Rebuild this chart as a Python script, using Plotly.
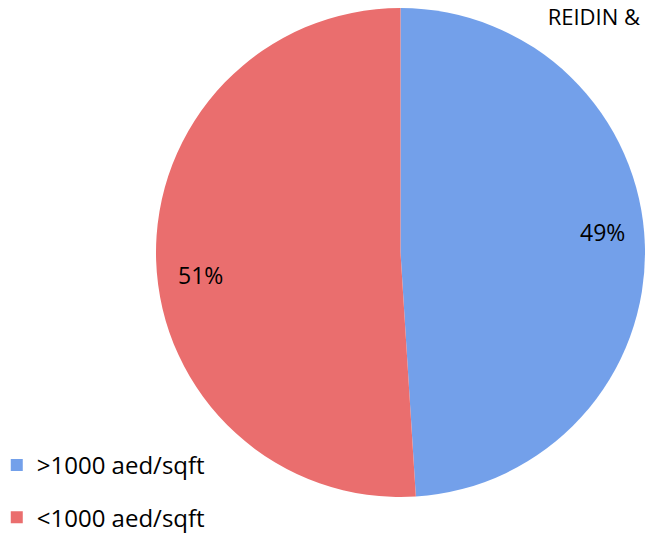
import plotly.graph_objects as go

labels = [">1000 aed/sqft", "<1000 aed/sqft"]
values = [49, 51]
colors = ["#73A0EA", "#EA6E6E"]
title_text = "REIDIN &"

total = sum(values)
pcts = [f"{round(v / total * 100)}%" for v in values]

fig = go.Figure()
fig.add_trace(go.Pie(
    labels=labels,
    values=values,
    sort=False,
    direction="clockwise",
    rotation=0,
    marker=dict(colors=colors, line=dict(width=0)),
    textinfo="none",
    hoverinfo="label+percent",
    showlegend=False,
    domain=dict(x=[156 / 646, 645 / 646], y=[36 / 533, 525 / 533]),
))

# legend entries
for lab, col in zip(labels, colors):
    fig.add_trace(go.Scatter(
        x=[None], y=[None], mode="markers", name=lab, legendgroup=lab,
        marker=dict(symbol="square", size=12, color=col),
    ))

# percentage labels
fig.add_annotation(x=602 / 646, y=1 - 232 / 533, xref="paper", yref="paper",
                   xanchor="center", yanchor="middle",
                   text=pcts[0], showarrow=False, font=dict(size=23, color="#000"))
fig.add_annotation(x=200 / 646, y=1 - 275 / 533, xref="paper", yref="paper",
                   xanchor="center", yanchor="middle",
                   text=pcts[1], showarrow=False, font=dict(size=23, color="#000"))

fig.update_layout(
    width=646, height=533,
    margin=dict(l=0, r=0, t=0, b=0, autoexpand=False),
    paper_bgcolor="white", plot_bgcolor="white",
    font=dict(family="Open Sans, Liberation Sans, sans-serif", size=22, color="#000"),
    title=dict(text=title_text, x=640 / 646, xanchor="right", y=1 - 17 / 533, yanchor="middle",
               font=dict(size=22, color="#000")),
    xaxis=dict(visible=False), yaxis=dict(visible=False),
    legend=dict(x=-0.005, xanchor="left", y=-0.013, yanchor="bottom",
                tracegroupgap=18, bgcolor="rgba(0,0,0,0)",
                font=dict(size=24), itemwidth=30),
)

fig.write_html("out.html")
